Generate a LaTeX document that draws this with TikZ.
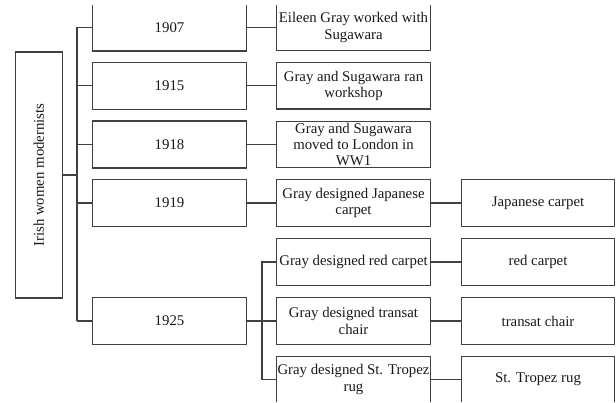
\documentclass[tikz,border=0pt]{standalone}
\usepackage{fontspec}
\setmainfont{Liberation Serif}
\begin{document}
\begin{tikzpicture}[x=1pt,y=-1pt,
  box/.style={draw=black!75,line width=1.1pt,rectangle,inner sep=0pt,align=center,
    font=\fontsize{14.8}{16.3}\selectfont,text=black!90},
  yearbox/.style={box,minimum width=154.4pt,minimum height=47pt},
  eventbox/.style={box,minimum width=153.6pt,minimum height=46.5pt},
  itembox/.style={box,minimum width=152.6pt,minimum height=46.5pt},
  conn/.style={draw=black!75,line width=1.1pt}]
\useasboundingbox (0,0) rectangle (616,403);
\clip (0,5.3) rectangle (616,401.9);
\node[box,minimum width=47pt,minimum height=246pt] (root) at (38.7,175) {};
\node[rotate=90,font=\fontsize{14.8}{16.3}\selectfont,text=black!90] (roottext) at (root.center) {Irish women modernists};
\node[yearbox] (y1) at (169.5,27.5) {1907};
\node[yearbox] (y2) at (169.5,85.8) {1915};
\node[yearbox] (y3) at (169.5,144.5) {1918};
\node[yearbox] (y4) at (169.5,203) {1919};
\node[yearbox] (y5) at (169.5,321) {1925};
\node[eventbox] (e1) at (353.5,27.5) {Eileen Gray worked with\\Sugawara};
\node[eventbox] (e2) at (353.5,85.8) {Gray and Sugawara ran\\workshop};
\node[eventbox] (e3) at (353.5,144.5) {Gray and Sugawara\\moved to London in\\WW1};
\node[eventbox] (e4) at (353.5,203) {Gray designed Japanese\\carpet};
\node[eventbox] (e5) at (353.5,262) {Gray designed red carpet};
\node[eventbox] (e6) at (353.5,321) {Gray designed transat\\chair};
\node[eventbox] (e7) at (353.5,379.5) {Gray designed St. Tropez\\rug};
\node[itembox] (i4) at (538,203) {Japanese carpet};
\node[itembox] (i5) at (538,262) {red carpet};
\node[itembox] (i6) at (538,321) {transat chair};
\node[itembox] (i7) at (538,379.5) {St. Tropez rug};
\coordinate (b1) at (77,27.5);
\coordinate (b5) at (77,321);
\coordinate (s1) at (262,262);
\coordinate (s3) at (262,379.5);
\draw[conn] (root.east) -- (root.east -| b1);
\draw[conn] (b1) -- (b5);
\foreach \n in {1,2,3,4,5} \draw[conn] (y\n.west -| b1) -- (y\n.west);
\foreach \n in {1,2,3,4} \draw[conn] (y\n.east) -- (e\n.west);
\draw[conn] (y5.east) -- (e6.west);
\draw[conn] (e5.west) -- (s1) -- (s3) -- (e7.west);
\foreach \n in {4,5,6,7} \draw[conn] (e\n.east) -- (i\n.west);
\end{tikzpicture}
\end{document}
